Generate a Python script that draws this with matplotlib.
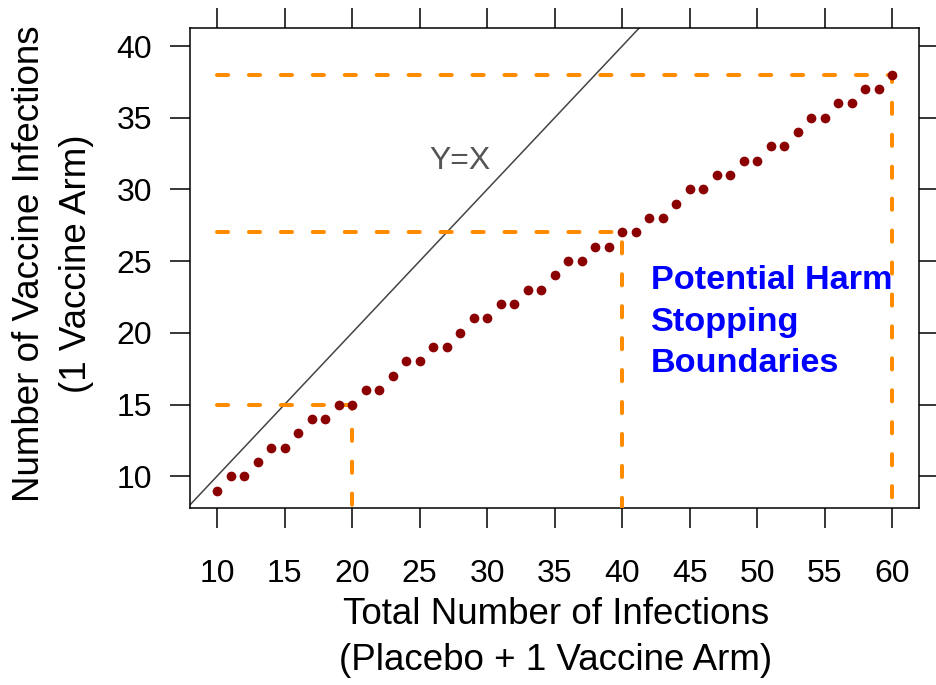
import matplotlib
matplotlib.use("Agg")
import matplotlib.pyplot as plt
import numpy as np

plt.rcParams["font.family"] = ["Liberation Sans", "DejaVu Sans"]
plt.rcParams["lines.scale_dashes"] = False

# boundary data: total infections vs vaccine-arm infections at harm boundary
total_inf = np.arange(10, 61)
vaccine_inf = [9, 10, 10, 11, 12, 12, 13, 14, 14, 15,
               15, 16, 16, 17, 18, 18, 19, 19, 20, 21,
               21, 22, 22, 23, 23, 24, 25, 25, 26, 26,
               27, 27, 28, 28, 29, 30, 30, 31, 31, 32,
               32, 33, 33, 34, 35, 35, 36, 36, 37, 37,
               38]

# highlighted looks
look_x = [20, 40, 60]
look_y = [15, 27, 38]

xticks = [10, 15, 20, 25, 30, 35, 40, 45, 50, 55, 60]
yticks = [10, 15, 20, 25, 30, 35, 40]

W, H = 936, 685
fig = plt.figure(figsize=(W / 100, H / 100), dpi=100)
ax = fig.add_axes([190 / W, 1 - 508.3 / H, (919.3 - 190) / W, (508.3 - 28.3) / H])

x0, x1 = 8, 62
ylo, yhi = 9, 40
yr = (yhi - ylo) * 0.04
y0, y1 = ylo - yr, yhi + yr
ax.set_xlim(x0, x1)
ax.set_ylim(y0, y1)

# Y = X reference line
ax.plot([x0, x1], [x0, x1], color="#444444", lw=1.1, zorder=2)
ax.text(28, 32, "Y=X", color="#555555", fontsize=23, ha="center", va="center")

# dashed guides for the selected looks
for lx, ly in zip(look_x, look_y):
    ax.plot([10, lx, lx], [ly, ly, y0], color="darkorange", lw=2.9,
            dashes=(8, 15), dash_capstyle="round", solid_joinstyle="round", zorder=3)

ax.plot(total_inf, vaccine_inf, "o", color="darkred", ms=7, mec="none", zorder=4)

ax.text(42.1, 20.75, "Potential Harm\nStopping\nBoundaries", color="blue",
        fontsize=24.7, fontweight="bold", ha="left", va="center", linespacing=1.45)

ax.set_xticks(xticks)
ax.set_yticks(yticks)
ax.tick_params(axis="both", direction="out", length=14.4, width=1.1,
               labelsize=23, top=True, right=True, labeltop=False, labelright=False)
ax.tick_params(axis="x", pad=22)
ax.tick_params(axis="y", pad=13)
for s in ax.spines.values():
    s.set_linewidth(1.1)

# axis labels
fig.text(556 / W, 1 - 614 / H, "Total Number of Infections", fontsize=26.5,
         ha="center", va="center")
fig.text(556 / W, 1 - 660 / H, "(Placebo + 1 Vaccine Arm)", fontsize=26.5,
         ha="center", va="center")
fig.text(30 / W, 1 - 264 / H, "Number of Vaccine Infections", fontsize=26.5,
         ha="center", va="center", rotation=90)
fig.text(77 / W, 1 - 264 / H, "(1 Vaccine Arm)", fontsize=26.5,
         ha="center", va="center", rotation=90)

fig.savefig("out.png", dpi=100)
